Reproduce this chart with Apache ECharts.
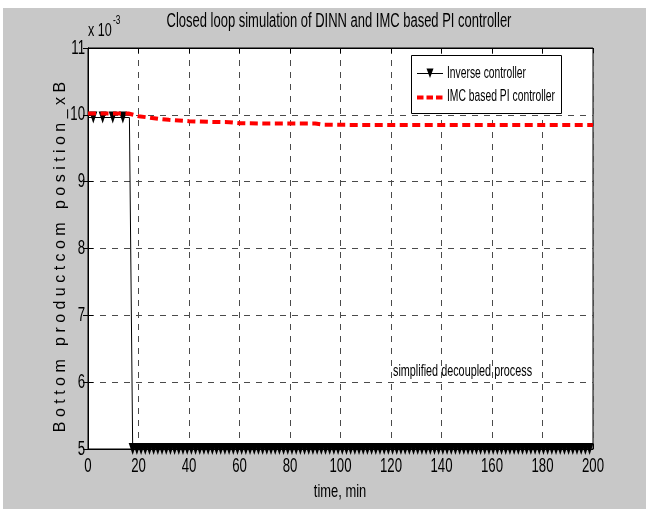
<!DOCTYPE html>
<html><head><meta charset="utf-8">
<script src="https://cdn.jsdelivr.net/npm/echarts@6/dist/echarts.min.js"></script>
<style>html,body{margin:0;padding:0;background:#fff}#c{width:649px;height:509px}</style>
</head><body><div id="c"></div>
<script>
const FONT = '"Liberation Sans", Arial, sans-serif';

const xTicks = [0, 20, 40, 60, 80, 100, 120, 140, 160, 180, 200];
const yTicks = [5, 6, 7, 8, 9, 10, 11];

// Inverse controller response (x 10^-3)
const inverseTime = [0, 2.1, 5.8, 9.8, 13.8, 16.4,
  17.70, 19.36, 21.02, 22.68, 24.34, 26.00, 27.66, 29.32, 30.98, 32.64,
  34.30, 35.96, 37.62, 39.28, 40.94, 42.60, 44.26, 45.92, 47.58, 49.24,
  50.90, 52.56, 54.22, 55.88, 57.54, 59.20, 60.86, 62.52, 64.18, 65.84,
  67.50, 69.16, 70.82, 72.48, 74.14, 75.80, 77.46, 79.12, 80.78, 82.44,
  84.10, 85.76, 87.42, 89.08, 90.74, 92.40, 94.06, 95.72, 97.38, 99.04,
  100.70, 102.36, 104.02, 105.68, 107.34, 109.00, 110.66, 112.32, 113.98, 115.64,
  117.30, 118.96, 120.62, 122.28, 123.94, 125.60, 127.26, 128.92, 130.58, 132.24,
  133.90, 135.56, 137.22, 138.88, 140.54, 142.20, 143.86, 145.52, 147.18, 148.84,
  150.50, 152.16, 153.82, 155.48, 157.14, 158.80, 160.46, 162.12, 163.78, 165.44,
  167.10, 168.76, 170.42, 172.08, 173.74, 175.40, 177.06, 178.72, 180.38, 182.04,
  183.70, 185.36, 187.02, 188.68, 190.34, 192.00, 193.66, 195.32, 196.98, 198.64];
const inverseValue = [9.96, 9.96, 9.96, 9.96, 9.96, 9.96,
  5, 5, 5, 5, 5, 5, 5, 5, 5, 5,
  5, 5, 5, 5, 5, 5, 5, 5, 5, 5,
  5, 5, 5, 5, 5, 5, 5, 5, 5, 5,
  5, 5, 5, 5, 5, 5, 5, 5, 5, 5,
  5, 5, 5, 5, 5, 5, 5, 5, 5, 5,
  5, 5, 5, 5, 5, 5, 5, 5, 5, 5,
  5, 5, 5, 5, 5, 5, 5, 5, 5, 5,
  5, 5, 5, 5, 5, 5, 5, 5, 5, 5,
  5, 5, 5, 5, 5, 5, 5, 5, 5, 5,
  5, 5, 5, 5, 5, 5, 5, 5, 5, 5,
  5, 5, 5, 5, 5, 5, 5, 5, 5, 5];
// samples drawn without a marker
const inverseUnmarked = [0, 16.4];

// IMC based PI controller response (x 10^-3)
const imcTime  = [0, 16, 18, 20, 24, 28, 32, 36, 40, 48, 56, 60, 70, 80, 90, 93, 100, 120, 150, 200];
const imcValue = [10.02, 10.02, 10.0, 9.98, 9.96, 9.94, 9.925, 9.915, 9.905, 9.895, 9.89, 9.875, 9.87, 9.87, 9.87, 9.853, 9.85, 9.848, 9.848, 9.848];

const seriesNames = ['Inverse controller', 'IMC based PI controller'];

const TRI = 'path://M0,0L10,0L5,10Z';
const INK = '#000';
const RED = '#ff0000';

const inverseData = inverseTime.map((t, i) => {
  const item = { value: [t, inverseValue[i]] };
  if (inverseUnmarked.includes(t)) item.symbol = 'none';
  return item;
});
const imcData = imcTime.map((t, i) => [t, imcValue[i]]);

const chart = echarts.init(document.getElementById('c'), null, { renderer: 'canvas' });

const gridDash = { type: [6, 6], color: '#4a4a4a', width: 1 };
const tickStyle = { show: true, inside: true, length: 5, lineStyle: { color: INK } };

chart.setOption({
  animation: false,
  backgroundColor: '#fff',
  textStyle: { fontFamily: FONT },
  grid: {
    left: 88, top: 48, right: 56, bottom: 60,
    show: true, backgroundColor: '#fff', borderColor: INK, borderWidth: 1,
    containLabel: false, outerBoundsMode: 'none'
  },
  xAxis: [{
    type: 'value', min: 0, max: 200, interval: 20,
    axisLine: { show: true, onZero: false, lineStyle: { color: INK } },
    axisTick: tickStyle, axisLabel: { show: false },
    splitLine: { show: true, lineStyle: gridDash }
  }, {
    type: 'value', min: 0, max: 200, interval: 20, position: 'top',
    axisLine: { show: true, lineStyle: { color: INK } },
    axisTick: tickStyle, axisLabel: { show: false }, splitLine: { show: false }
  }],
  yAxis: [{
    type: 'value', min: 5, max: 11, interval: 1,
    axisLine: { show: true, onZero: false, lineStyle: { color: INK } },
    axisTick: tickStyle, axisLabel: { show: false },
    splitLine: { show: true, lineStyle: gridDash }
  }, {
    type: 'value', min: 5, max: 11, interval: 1, position: 'right',
    axisLine: { show: true, lineStyle: { color: INK } },
    axisTick: tickStyle, axisLabel: { show: false }, splitLine: { show: false }
  }],
  series: [{
    name: seriesNames[0], type: 'line',
    data: inverseData,
    showAllSymbol: true,
    symbol: TRI, symbolSize: [8, 12],
    lineStyle: { color: INK, width: 1 },
    itemStyle: { color: INK },
    clip: false, z: 3
  }, {
    name: seriesNames[1], type: 'line',
    data: imcData,
    symbol: 'none',
    lineStyle: { color: RED, width: 4, type: [8, 4.5] },
    itemStyle: { color: RED },
    z: 4
  }]
});

// Condensed text: horizontal compression of a regular sans face
function narrowText(x, y, text, size, squeeze, align) {
  return {
    type: 'text', x: x, y: y, scaleX: squeeze, z: 50, silent: true,
    style: { text: text, fontFamily: FONT, fontSize: size, fill: INK,
             align: align || 'center', verticalAlign: 'middle' }
  };
}

const g = [];
// figure background
g.push({ type: 'rect', z: -100, silent: true, shape: { x: 3, y: 8, width: 643, height: 501 }, style: { fill: '#c8c8c8' } });

// title and exponent
g.push(narrowText(339, 21, 'Closed loop simulation of DINN and IMC based PI controller', 20, 0.649));
g.push(narrowText(88, 31, 'x 10', 18, 0.7, 'left'));
g.push(narrowText(113, 21, '-3', 12, 0.7, 'left'));

// tick labels placed through the axis scales
const yBase = chart.convertToPixel({ yAxisIndex: 0 }, 5);
xTicks.forEach(v => {
  const px = chart.convertToPixel({ xAxisIndex: 0 }, v);
  g.push(narrowText(px, yBase + 17, String(v), 20, 0.66));
});
const xBase = chart.convertToPixel({ xAxisIndex: 0 }, 0);
yTicks.forEach(v => {
  const py = chart.convertToPixel({ yAxisIndex: 0 }, v);
  g.push(narrowText(xBase - 3, py, String(v), 20, 0.66, 'right'));
});

// axis titles
g.push(narrowText(340, 492, 'time, min', 19, 0.68));
g.push({ type: 'text', x: 61, y: 257, rotation: Math.PI / 2, silent: true, z: 50,
  style: { text: 'B o t t o m   p r o d u c t c o m   p o s i t i o n _ x B',
           fontFamily: FONT, fontSize: 16, fill: INK, align: 'center', verticalAlign: 'middle' } });

// annotation
g.push(narrowText(393, 371, 'simplified decoupled process', 17, 0.637, 'left'));

// legend box with keys
g.push({ type: 'rect', z: 40, silent: true, shape: { x: 411.5, y: 55.5, width: 150, height: 58 },
         style: { fill: '#fff', stroke: INK, lineWidth: 1 } });
g.push({ type: 'line', z: 41, silent: true, shape: { x1: 417, y1: 73.5, x2: 443, y2: 73.5 },
         style: { stroke: INK, lineWidth: 1 } });
g.push({ type: 'polygon', z: 42, silent: true, shape: { points: [[426.5, 68.5], [433.5, 68.5], [430, 78]] },
         style: { fill: INK } });
g.push({ type: 'line', z: 41, silent: true, shape: { x1: 417, y1: 97.5, x2: 443, y2: 97.5 },
         style: { stroke: RED, lineWidth: 4, lineDash: [6.5, 3] } });
g.push(narrowText(447, 73, seriesNames[0], 17, 0.606, 'left'));
g.push(narrowText(447, 96, seriesNames[1], 17, 0.608, 'left'));

chart.setOption({ graphic: g });
</script>
</body></html>
